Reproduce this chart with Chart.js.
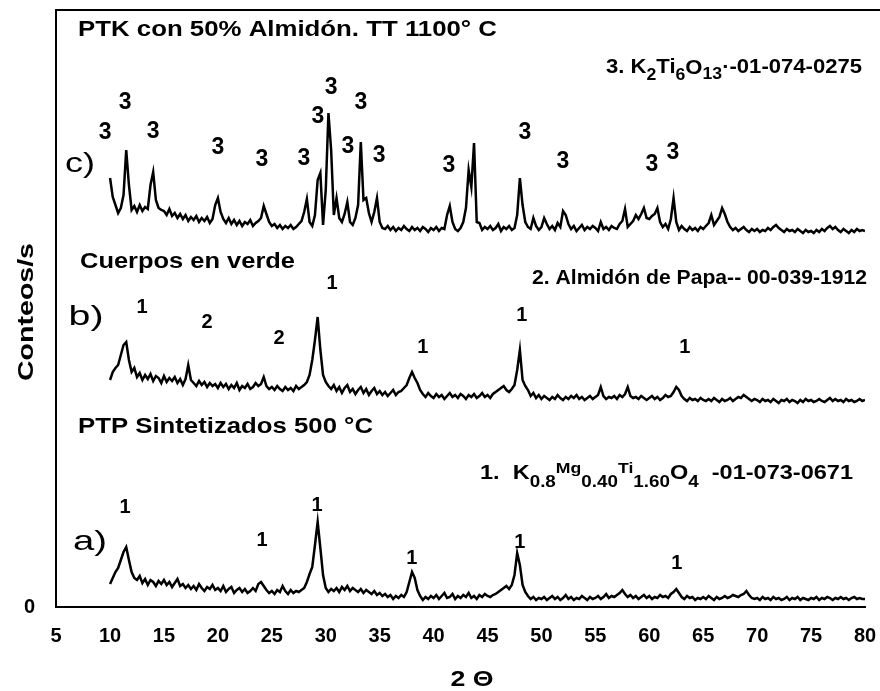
<!DOCTYPE html>
<html>
<head>
<meta charset="utf-8">
<script src="https://cdn.jsdelivr.net/npm/chart.js@4.4.0/dist/chart.umd.min.js"></script>
<style>
  html, body { margin: 0; padding: 0; background: #fff; }
  canvas { display: block; }
</style>
</head>
<body>
<canvas id="drxChart" width="880" height="691"></canvas>
<script>
// Barrido en 2θ (grados): inicio y paso de medida
var anguloInicio = 10;
var anguloPaso = 0.25;

// Etiquetas de los ejes
var xTicks = [5, 10, 15, 20, 25, 30, 35, 40, 45, 50, 55, 60, 65, 70, 75, 80];
var yTicks = [0];

// c) PTK con 50% almidón, TT 1100 °C (conteos, desplazado)
var patronC = [
  429, 410, 402, 394, 399, 412, 457, 422, 397, 401, 395, 402, 396, 400, 398, 422, 435, 407, 399, 397,
  396, 392, 398, 391, 394, 389, 393, 388, 392, 386, 390, 387, 391, 385, 389, 386, 390, 384, 388, 402,
  409, 395, 388, 384, 389, 383, 387, 382, 386, 381, 385, 383, 387, 381, 384, 386, 389, 401, 393, 385,
  381, 383, 379, 382, 378, 381, 379, 382, 378, 380, 383, 386, 395, 408, 385, 381, 392, 427, 434, 382,
  417, 494, 457, 392, 409, 389, 385, 393, 405, 385, 382, 389, 402, 465, 407, 409, 394, 385, 395, 409,
  385, 379, 378, 381, 377, 380, 376, 379, 377, 381, 378, 376, 380, 377, 379, 376, 380, 378, 375, 379,
  377, 380, 376, 379, 378, 392, 401, 385, 378, 376, 379, 385, 399, 437, 420, 464, 385, 384, 377, 380,
  378, 381, 377, 379, 383, 376, 380, 378, 381, 377, 379, 392, 429, 402, 385, 380, 378, 389, 381, 377,
  380, 389, 383, 378, 381, 377, 384, 380, 396, 392, 383, 378, 381, 376, 379, 382, 377, 380, 378, 381,
  379, 376, 385, 378, 380, 377, 381, 379, 378, 383, 386, 398, 380, 383, 386, 392, 388, 393, 399, 389,
  388, 391, 393, 399, 385, 380, 383, 378, 388, 409, 385, 377, 381, 378, 376, 380, 377, 379, 376, 380,
  378, 381, 384, 392, 382, 386, 390, 399, 393, 385, 380, 377, 379, 376, 378, 380, 377, 375, 378, 376,
  378, 375, 377, 376, 379, 377, 380, 382, 379, 377, 375, 378, 376, 377, 375, 378, 376, 374, 377, 375,
  376, 374, 377, 375, 378, 376, 379, 381, 378, 380, 377, 375, 378, 376, 374, 377, 375, 378, 376, 377,
  376
];

// b) Cuerpos en verde
var patronB = [
  227, 235, 239, 242, 252, 262, 265, 247, 235, 239, 230, 234, 227, 232, 228, 233, 226, 231, 229, 224,
  231, 225, 229, 226, 230, 224, 228, 222, 228, 242, 227, 224, 221, 226, 222, 225, 220, 224, 221, 223,
  219, 224, 220, 223, 218, 222, 219, 224, 217, 221, 219, 223, 218, 220, 224, 221, 223, 230, 221, 218,
  220, 217, 221, 218, 216, 220, 217, 219, 216, 221, 218, 220, 222, 225, 232, 247, 267, 290, 257, 232,
  225, 221, 218, 222, 216, 220, 214, 219, 222, 215, 218, 213, 217, 220, 214, 218, 212, 216, 219, 213,
  216, 212, 215, 211, 214, 217, 212, 215, 216, 219, 222, 229, 235, 229, 224, 217, 213, 210, 214, 211,
  209, 213, 210, 212, 208, 211, 214, 210, 212, 209, 213, 211, 208, 212, 210, 213, 209, 211, 214, 210,
  212, 209, 213, 215, 217, 219, 221, 217, 215, 218, 222, 237, 257, 227, 221, 217, 211, 214, 209, 212,
  208, 211, 209, 207, 210, 208, 212, 209, 207, 210, 208, 211, 209, 212, 208, 210, 207, 209, 211, 208,
  210, 212, 220, 211, 208, 210, 209, 211, 208, 212, 210, 213, 220, 211, 209, 210, 208, 211, 209, 207,
  209, 211, 208, 210, 207, 209, 212, 210, 211, 215, 220, 217, 211, 208, 206, 209, 207, 208, 206, 209,
  207, 206, 208, 206, 209, 207, 205, 208, 206, 207, 209, 206, 208, 210, 209, 212, 210, 208, 206, 208,
  207, 205, 208, 206, 207, 205, 208, 206, 204, 207, 206, 208, 205, 207, 206, 204, 207, 205, 208, 206,
  207, 205, 206, 208, 206, 205, 207, 209, 206, 208, 206, 207, 205, 208, 206, 207, 205, 206, 208, 206,
  207
];

// a) PTP sintetizados 500 °C
var patronA = [
  23, 29, 35, 39, 47, 55, 60, 47, 35, 29, 27, 31, 24, 28, 22, 27, 25, 21, 26, 23,
  27, 22, 25, 20, 24, 28, 21, 23, 19, 22, 18, 21, 17, 23, 19, 16, 20, 18, 22, 17,
  19, 16, 21, 15, 18, 20, 14, 17, 19, 15, 18, 14, 16, 19, 16, 23, 25, 21, 17, 14,
  16, 13, 17, 15, 21, 16, 13, 17, 14, 16, 15, 17, 19, 25, 33, 40, 62, 85, 59, 32,
  19, 15, 18, 16, 19, 15, 20, 17, 21, 16, 19, 17, 15, 18, 14, 17, 15, 13, 16, 12,
  14, 11, 13, 10, 12, 8, 11, 9, 12, 10, 15, 25, 35, 29, 17, 11, 7, 10, 8, 11,
  9, 12, 8, 11, 14, 9, 10, 13, 8, 11, 9, 12, 10, 14, 9, 11, 8, 12, 10, 13,
  11, 10, 12, 13, 15, 17, 19, 21, 18, 22, 32, 54, 42, 22, 15, 11, 8, 10, 7, 9,
  8, 10, 7, 9, 11, 8, 10, 7, 9, 12, 8, 10, 7, 9, 8, 11, 9, 7, 10, 8,
  9, 11, 8, 10, 13, 9, 11, 10, 12, 14, 17, 13, 10, 12, 9, 11, 8, 10, 12, 9,
  11, 8, 10, 9, 12, 10, 11, 9, 13, 15, 18, 14, 10, 8, 11, 9, 10, 7, 9, 8,
  10, 8, 11, 9, 7, 10, 8, 9, 11, 9, 10, 12, 11, 10, 12, 13, 16, 12, 9, 8,
  9, 7, 10, 8, 9, 7, 10, 8, 9, 7, 8, 10, 7, 9, 8, 10, 7, 9, 8, 7,
  9, 8, 10, 7, 9, 8, 10, 9, 7, 9, 8, 10, 8, 9, 7, 9, 10, 8, 9, 8,
  8
];

// Identificación de picos: fase, posición 2θ y altura de la etiqueta
var fasesC = ["3", "3", "3", "3", "3", "3", "3", "3", "3", "3", "3", "3", "3", "3", "3", "3"];
var angulosC = [9.54, 11.39, 13.99, 20.01, 24.09, 27.98, 29.28, 30.49, 32.06, 33.27, 34.94, 41.42, 48.47, 51.99, 60.24, 62.18];
var alturasC = [474, 504, 475, 459, 447, 448, 490, 519, 460, 504, 451, 441, 474, 445, 442, 454];

var fasesB = ["1", "2", "2", "1", "1", "1", "1"];
var angulosB = [12.96, 19.0, 25.66, 30.58, 39.0, 48.19, 63.3];
var alturasB = [300, 285, 269, 324, 260, 292, 260];

var fasesA = ["1", "1", "1", "1", "1", "1"];
var angulosA = [11.39, 24.09, 29.19, 37.99, 48.0, 62.55];
var alturasA = [100, 67, 102, 49, 65, 44];

// Letra de cada difractograma
var muestras = ["c)", "b)", "a)"];
var muestrasAngulo = [7.22, 7.78, 8.15];
var muestrasAltura = [443, 290, 65];

var FUENTE = '"Liberation Sans", Arial, sans-serif';

function aPuntos(valores) {
  return valores.map(function (v, i) {
    return { x: anguloInicio + i * anguloPaso, y: v };
  });
}

// texto ajustado a un ancho dado (la figura original usa letra estrecha)
function textoAjustado(ctx, texto, x, y, ancho, fuente, alinear, girar) {
  ctx.save();
  ctx.font = fuente;
  var w = ctx.measureText(texto).width;
  ctx.translate(x, y);
  if (girar) ctx.rotate(-Math.PI / 2);
  ctx.scale(ancho / w, 1);
  ctx.textAlign = alinear;
  ctx.textBaseline = "middle";
  ctx.fillStyle = "#000";
  ctx.fillText(texto, 0, 0);
  ctx.restore();
}

// texto con subíndices: partes [texto, tamaño, desplazamiento vertical]
function textoQuimico(ctx, partes, izq, der, y) {
  ctx.save();
  var total = 0;
  partes.forEach(function (p) {
    ctx.font = "bold " + p[1] + "px " + FUENTE;
    total += ctx.measureText(p[0]).width;
  });
  ctx.translate(izq, y);
  ctx.scale((der - izq) / total, 1);
  ctx.textAlign = "left";
  ctx.textBaseline = "middle";
  ctx.fillStyle = "#000";
  var x = 0;
  partes.forEach(function (p) {
    ctx.font = "bold " + p[1] + "px " + FUENTE;
    ctx.fillText(p[0], x, p[2]);
    x += ctx.measureText(p[0]).width;
  });
  ctx.restore();
}

var rotulos = {
  id: "rotulos",
  afterDraw: function (chart) {
    var ctx = chart.ctx;
    var area = chart.chartArea;
    var sx = chart.scales.x;
    var sy = chart.scales.y;

    // línea superior del marco
    ctx.save();
    ctx.strokeStyle = "#000";
    ctx.lineWidth = 2;
    ctx.beginPath();
    ctx.moveTo(area.left - 1, area.top);
    ctx.lineTo(chart.width, area.top);
    ctx.stroke();
    ctx.restore();

    // títulos de cada muestra
    textoAjustado(ctx, "PTK con 50% Almidón. TT 1100° C", 78, 30, 419, "bold 22px " + FUENTE, "left");
    textoAjustado(ctx, "Cuerpos en verde", 80, 262, 215, "bold 22px " + FUENTE, "left");
    textoAjustado(ctx, "PTP Sintetizados 500 °C", 78, 427, 295, "bold 22px " + FUENTE, "left");

    // fases identificadas
    textoQuimico(ctx, [["3. K", 20, 0], ["2", 16, 9], ["Ti", 20, 0], ["6", 16, 9], ["O", 20, 1], ["13", 16, 8], ["·-01-074-0275", 20, 0]], 606, 862, 67);
    textoAjustado(ctx, "2. Almidón de Papa-- 00-039-1912", 532, 278, 335, "bold 20px " + FUENTE, "left");
    textoQuimico(ctx, [["1.  K", 20, 0], ["0.8", 16, 10], ["Mg", 15, -4], ["0.40", 16, 10], ["Ti", 15, -4], ["1.60", 16, 10], ["O", 20, 0], ["4", 16, 10], ["  -01-073-0671", 20, 0]], 480, 853, 473);

    // números de fase sobre los picos
    var grupos = [[fasesC, angulosC, alturasC, "bold 23px "], [fasesB, angulosB, alturasB, "bold 20px "], [fasesA, angulosA, alturasA, "bold 20px "]];
    ctx.save();
    ctx.fillStyle = "#000";
    ctx.textAlign = "center";
    ctx.textBaseline = "middle";
    grupos.forEach(function (g) {
      ctx.font = g[3] + FUENTE;
      g[0].forEach(function (t, i) {
        ctx.fillText(t, sx.getPixelForValue(g[1][i]), sy.getPixelForValue(g[2][i]));
      });
    });
    ctx.restore();

    var anchosLetra = [30, 35, 34];
    muestras.forEach(function (t, i) {
      textoAjustado(ctx, t, sx.getPixelForValue(muestrasAngulo[i]), sy.getPixelForValue(muestrasAltura[i]), anchosLetra[i], "28px " + FUENTE, "center");
    });

    // títulos de ejes
    textoAjustado(ctx, "Conteos/s", 27, 312, 138, "bold 22px " + FUENTE, "center", true);
    textoAjustado(ctx, "2 Θ", 472, 680, 43, "bold 22px " + FUENTE, "center");
  }
};

Chart.defaults.color = "#000";
Chart.defaults.font.family = FUENTE;

var ctx = document.getElementById("drxChart").getContext("2d");
var drxChart = new Chart(ctx, {
  type: "line",
  data: {
    datasets: [
      { label: "c)", data: aPuntos(patronC), borderColor: "#000", borderWidth: 2.5, pointRadius: 0, tension: 0 },
      { label: "b)", data: aPuntos(patronB), borderColor: "#000", borderWidth: 2.5, pointRadius: 0, tension: 0 },
      { label: "a)", data: aPuntos(patronA), borderColor: "#000", borderWidth: 2.5, pointRadius: 0, tension: 0 }
    ]
  },
  options: {
    responsive: false,
    animation: false,
    layout: { padding: { left: 24, right: 15, top: 10, bottom: 45 } },
    plugins: {
      legend: { display: false },
      tooltip: { enabled: false }
    },
    scales: {
      x: {
        type: "linear",
        min: 5,
        max: 80,
        afterBuildTicks: function (axis) {
          axis.ticks = xTicks.map(function (v) { return { value: v }; });
        },
        grid: { display: false, drawTicks: true, tickLength: 19 },
        border: { display: true, color: "#000", width: 2 },
        ticks: { font: { size: 20, weight: "bold", lineHeight: 1 }, color: "#000", padding: 0, maxRotation: 0 }
      },
      y: {
        type: "linear",
        min: 0,
        max: 597,
        afterBuildTicks: function (axis) {
          axis.ticks = yTicks.map(function (v) { return { value: v }; });
        },
        grid: { display: false, drawTicks: true, tickLength: 21 },
        border: { display: true, color: "#000", width: 2 },
        ticks: { font: { size: 20, weight: "bold", lineHeight: 1 }, color: "#000", padding: 0 }
      }
    }
  },
  plugins: [rotulos]
});
</script>
</body>
</html>
